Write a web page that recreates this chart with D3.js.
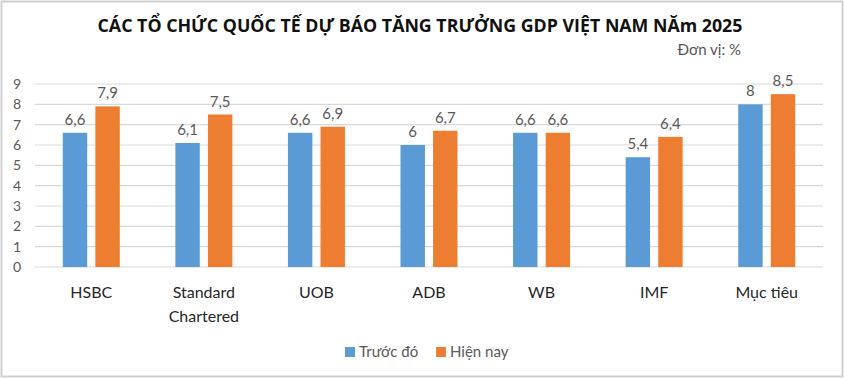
<!DOCTYPE html>
<html>
<head>
<meta charset="utf-8">
<script src="https://cdn.jsdelivr.net/npm/d3@7"></script>
<style>
  body { margin: 0; background: #fff; }
  svg { display: block; }
</style>
</head>
<body>
<div id="main"></div>
<script>
const categories = ['HSBC', 'Standard Chartered', 'UOB', 'ADB', 'WB', 'IMF', 'Mục tiêu'];
const seriesNames = ['Trước đó', 'Hiện nay'];
const truocDo = [6.6, 6.1, 6.6, 6, 6.6, 5.4, 8];
const hienNay = [7.9, 7.5, 6.9, 6.7, 6.6, 6.4, 8.5];
const yTicks = [0, 1, 2, 3, 4, 5, 6, 7, 8, 9];
const colors = ['#5B9BD5', '#ED7D31'];

const w = 844;
const h = 378;
const font = 'Lato, "Open Sans", sans-serif';

const svg = d3.select('#main').
append('svg').
attr('width', w).
attr('height', h);

// outer frame
svg.append('rect').
attr('x', 1.5).
attr('y', 1.5).
attr('width', w - 3).
attr('height', h - 3).
attr('fill', '#fff').
attr('stroke', '#d0d0d0').
attr('stroke-width', 2);

const title = svg.append('text').
attr('x', 420).
attr('y', 32).
attr('text-anchor', 'middle').
attr('font-family', '"Liberation Sans Narrow", "Open Sans", sans-serif').
attr('font-weight', 'bold').
attr('font-size', '21px').
attr('fill', '#111').
text('CÁC TỔ CHỨC QUỐC TẾ DỰ BÁO TĂNG TRƯỞNG GDP VIỆT NAM NĂm 2025');

// fit the title to the width seen in the reference
const tw = title.node().getComputedTextLength();
title.attr('font-size', (21 * 646 / tw).toFixed(1) + 'px');

svg.append('text').
attr('x', 741).
attr('y', 55).
attr('text-anchor', 'end').
attr('font-family', font).
attr('font-size', '15px').
attr('fill', '#555').
text('Đơn vị: %');

const xScale = d3.scaleBand().
domain(categories).
range([35, 823]);

const xInner = d3.scaleBand().
domain(seriesNames).
range([0, 57]).
paddingInner(0.25);

const yScale = d3.scaleLinear().
domain([0, 9]).
range([267, 84]);

// grid
svg.append('g').
selectAll('line').
data(yTicks).
enter().
append('line').
attr('x1', 35).
attr('x2', 823).
attr('y1', d => yScale(d)).
attr('y2', d => yScale(d)).
attr('stroke', '#d9d9d9').
attr('stroke-width', 1.2);

const yAxis = d3.axisLeft(yScale).
tickValues(yTicks).
tickSize(0).
tickPadding(0);

svg.append('g').
attr('transform', 'translate(21,0)').
call(yAxis).
call(g => g.select('.domain').remove()).
call(g => g.selectAll('text').
attr('font-family', font).
attr('font-size', '14px').
attr('fill', '#595959'));

const series = [truocDo, hienNay];

series.forEach((vals, si) => {
  const g = svg.append('g');
  g.selectAll('rect').
  data(categories).
  enter().
  append('rect').
  attr('x', d => xScale(d) + (xScale.bandwidth() - 57) / 2 + xInner(seriesNames[si])).
  attr('y', (d, i) => yScale(vals[i])).
  attr('width', xInner.bandwidth()).
  attr('height', (d, i) => yScale(0) - yScale(vals[i])).
  attr('fill', colors[si]);

  g.selectAll('text').
  data(categories).
  enter().
  append('text').
  attr('x', d => xScale(d) + (xScale.bandwidth() - 57) / 2 + xInner(seriesNames[si]) + xInner.bandwidth() / 2).
  attr('y', (d, i) => yScale(vals[i]) - 8).
  attr('text-anchor', 'middle').
  attr('font-family', font).
  attr('font-size', '15px').
  attr('fill', '#595959').
  text((d, i) => String(vals[i]).replace('.', ','));
});

// category labels
const catG = svg.append('g');
categories.forEach(c => {
  const lines = c === 'Standard Chartered' ? ['Standard', 'Chartered'] : [c];
  const t = catG.append('text').
  attr('x', xScale(c) + xScale.bandwidth() / 2).
  attr('y', 298).
  attr('text-anchor', 'middle').
  attr('font-family', font).
  attr('font-size', '16px').
  attr('fill', '#262626');
  lines.forEach((l, k) => {
    t.append('tspan').
    attr('x', xScale(c) + xScale.bandwidth() / 2).
    attr('dy', k === 0 ? 0 : 24).
    text(l);
  });
});

// legend
const legend = svg.append('g').attr('transform', 'translate(345,347)');
const legendX = [0, 91];
seriesNames.forEach((s, i) => {
  legend.append('rect').
  attr('x', legendX[i]).
  attr('y', 0).
  attr('width', 10).
  attr('height', 10).
  attr('fill', colors[i]);
  legend.append('text').
  attr('x', legendX[i] + 14).
  attr('y', 10).
  attr('font-family', font).
  attr('font-size', '15px').
  attr('fill', '#595959').
  text(s);
});
</script>
</body>
</html>
